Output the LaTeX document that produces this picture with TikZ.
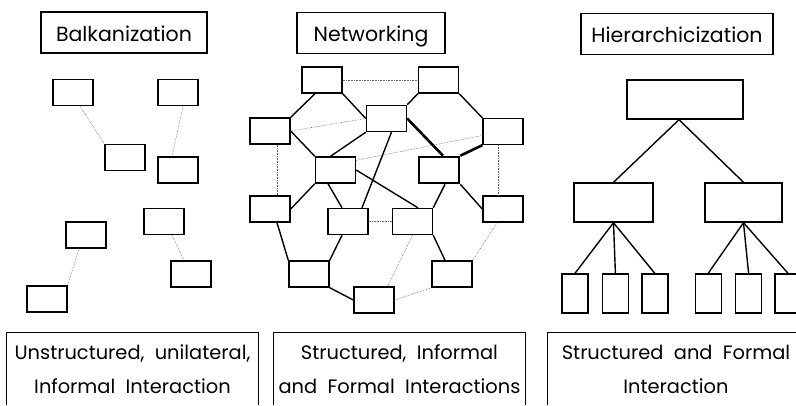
\documentclass[tikz,border=0pt]{standalone}
\usepackage{fontspec}
\setmainfont{Poppins}
\usepackage{tikz}
\usetikzlibrary{positioning, calc}

\begin{document}
\begin{tikzpicture}[x=1pt, y=-1pt,
        box/.style={draw, rectangle, minimum width=40pt, minimum height=26pt, inner sep=0pt, line width=1.4pt},
        boss/.style={draw, rectangle, minimum height=39pt, inner sep=0pt, line width=1.4pt},
        leaf/.style={draw, rectangle, minimum width=26pt, minimum height=39pt, inner sep=0pt, line width=1.4pt},
        title/.style={draw, rectangle, minimum height=41pt, inner sep=0pt, text height=17pt, text depth=0pt, line width=1.1pt, font=\fontsize{20.5}{24}\selectfont},
        caption/.style={rectangle, minimum height=72pt, inner sep=0pt, align=center, font=\fontsize{19.4}{34}\selectfont},
        link/.style={line width=1.4pt},
        strong/.style={line width=2.6pt},
        weak/.style={densely dotted, line width=0.6pt, black!60}
    ]
    \useasboundingbox (0,0) rectangle (796,405);

    % Titles
    \node[title, minimum width=166pt] (tbalk) at (124,32.5) {Balkanization};
    \node[title, minimum width=148pt] (tnet) at (371,33) {Networking};
    \node[title, minimum width=192pt] (thier) at (677,34) {Hierarchicization};

    % Balkanization
    \node[box] (b1) at (73,92.5) {};
    \node[box] (b2) at (178,92.5) {};
    \node[box] (b3) at (125,157.5) {};
    \node[box] (b4) at (178,170) {};
    \node[box] (b5) at (164,221.5) {};
    \node[box] (b6) at (86,235) {};
    \node[box] (b7) at (191,274) {};
    \node[box] (b8) at (47,299) {};

    \draw[weak] ([xshift=7pt]b1.south) -- (b3.north west);
    \draw[weak] ([xshift=5pt]b2.south) -- ([xshift=-6pt]b4.north);
    \draw[weak] ([xshift=8pt]b5.south) -- ([xshift=-7pt]b7.north);
    \draw[weak] ([xshift=-7pt]b6.south) -- (b8.north east);

    % Networking
    \node[box] (n1) at (322,80) {};
    \node[box] (n2) at (438.5,80) {};
    \node[box] (n3) at (386.5,118.5) {};
    \node[box] (n4) at (270,131) {};
    \node[box] (n5) at (503,131.5) {};
    \node[box] (n6) at (335.5,170) {};
    \node[box, line width=2.6pt] (n7) at (439,170) {};
    \node[box] (n8) at (270,209) {};
    \node[box] (n9) at (348,221.5) {};
    \node[box] (n10) at (412.5,221.5) {};
    \node[box] (n11) at (503,209) {};
    \node[box] (n12) at (309,274) {};
    \node[box] (n13) at (452,274) {};
    \node[box] (n14) at (374,300) {};

    \draw[link] ([xshift=-7pt]n1.south) -- (n4.north east);
    \draw[link] (n1.south east) -- (n3.west);
    \draw[link] (n2.south west) -- (n3.north east);
    \draw[link] (n2.south east) -- (n5.north west);
    \draw[link] (n4.east) -- (n6.north west);
    \draw[link] (n3.south west) -- ([xshift=-5pt]n6.north);
    \draw[link] ([xshift=5pt]n3.south) -- ([xshift=14pt]n9.north);
    \draw[link] (n6.south west) -- (n8.east);
    \draw[link] ([xshift=-7.5pt]n6.south) -- ([xshift=-6pt]n9.north);
    \draw[link] (n6.east) -- ([xshift=5.5pt]n10.north);
    \draw[strong] (n3.east) -- ([xshift=4pt]n7.north);
    \draw[strong] (n5.south west) -- (n7.north east);
    \draw[link] ([xshift=6pt]n7.south) -- (n10.north east);
    \draw[link] (n7.south east) -- (n11.west);
    \draw[link] ([xshift=7pt]n8.south) -- (n12.north west);
    \draw[link] ([xshift=-6pt]n9.south) -- (n12.north east);
    \draw[link] (n12.south east) -- (n14.west);
    \draw[link] (n10.south east) -- ([xshift=-7pt]n13.north);

    \draw[weak] (n1.east) -- (n2.west);
    \draw[weak] (n4.east) -- (n3.west);
    \draw[weak] ([yshift=-4pt]n6.north east) -- ([yshift=-4pt]n5.west);
    \draw[weak] ([xshift=7pt]n4.south) -- ([xshift=7pt]n8.north);
    \draw[weak] ([xshift=-5pt]n5.south) -- ([xshift=-5pt]n11.north);
    \draw[weak] (n9.east) -- (n10.west);
    \draw[weak] (n10.south) -- ([xshift=-7pt]n14.north east);
    \draw[weak] ([xshift=-6pt]n11.south) -- (n13.north east);
    \draw[weak] (n13.south west) -- (n14.east);

    % Hierarchicization
    \node[boss, minimum width=116pt] (top) at (685,99.5) {};
    \node[boss, minimum width=79pt] (ml) at (613.5,202.5) {};
    \node[boss, minimum width=77pt] (mr) at (743.5,202.5) {};
    \node[leaf] (l1) at (575,293.5) {};
    \node[leaf] (l2) [right=13pt of l1] {};
    \node[leaf] (l3) [right=12pt of l2] {};
    \node[leaf] (l4) [right=26pt of l3] {};
    \node[leaf] (l5) [right=13pt of l4] {};
    \node[leaf] (l6) [right=12pt of l5] {};

    \draw[link] ([xshift=-6pt]top.south) -- (ml.north);
    \draw[link] ([xshift=-6pt]top.south) -- (mr.north);
    \foreach \k in {1,2,3} \draw[link] (ml.south) -- (l\k.north);
    \foreach \k in {4,5,6} \draw[link] (mr.south) -- (l\k.north);

    % Captions
    \node[caption, minimum width=251pt] (cbalk) at (132.5,369) {Unstructured,\ \ unilateral,\\Informal\ \ Interaction};
    \node[caption, minimum width=251pt] (cnet) at (399.5,369) {Structured,\ \ Informal\\and\ \ Formal\ \ Interactions};
    \node[caption, minimum width=256pt] (chier) at (676,369) {Structured\ \ and\ \ Formal\\Interaction};

    \draw[line width=1.1pt] (cbalk.south west) |- (cbalk.north east) -- (cbalk.south east);
    \draw[line width=1.1pt] (cnet.south west) |- (cnet.north east) -- (cnet.south east);
    \draw[line width=1.1pt] (chier.south west) |- (chier.north east) -- (chier.south east);

\end{tikzpicture}
\end{document}
